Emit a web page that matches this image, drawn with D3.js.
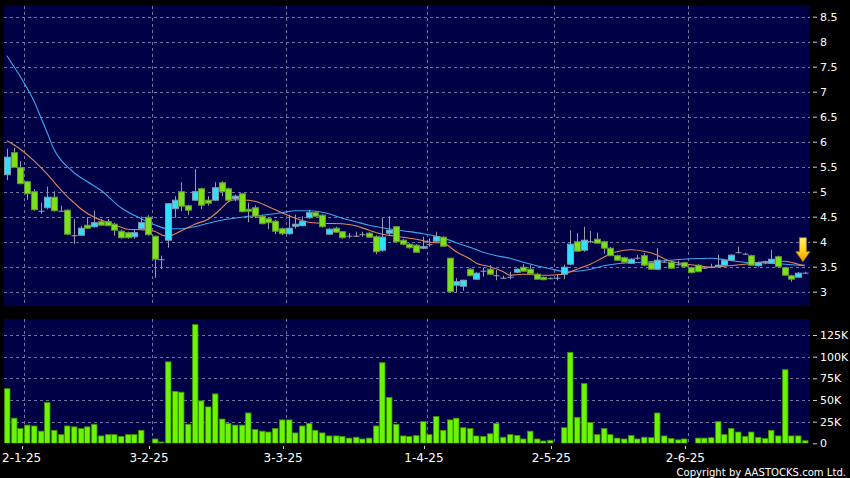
<!DOCTYPE html>
<html><head><meta charset="utf-8">
<script src="https://cdn.jsdelivr.net/npm/d3@7"></script>
<style>html,body{margin:0;padding:0;background:#000;}svg{display:block;}</style>
</head><body>
<svg id="c" width="850" height="478"></svg>
<script>
// ---------- DATA ----------
const dates = [
"27-12-24","30-12-24","31-12-24",
"2-1-25","3-1-25","6-1-25","7-1-25","8-1-25","9-1-25","10-1-25","13-1-25","14-1-25","15-1-25","16-1-25","17-1-25","20-1-25","21-1-25","22-1-25","23-1-25","24-1-25","27-1-25","28-1-25",
"3-2-25","4-2-25","5-2-25","6-2-25","7-2-25","10-2-25","11-2-25","12-2-25","13-2-25","14-2-25","17-2-25","18-2-25","19-2-25","20-2-25","21-2-25","24-2-25","25-2-25","26-2-25","27-2-25","28-2-25",
"3-3-25","4-3-25","5-3-25","6-3-25","7-3-25","10-3-25","11-3-25","12-3-25","13-3-25","14-3-25","17-3-25","18-3-25","19-3-25","20-3-25","21-3-25","24-3-25","25-3-25","26-3-25","27-3-25","28-3-25","31-3-25",
"1-4-25","2-4-25","3-4-25","7-4-25","8-4-25","9-4-25","10-4-25","11-4-25","14-4-25","15-4-25","16-4-25","17-4-25","22-4-25","23-4-25","24-4-25","25-4-25","28-4-25","29-4-25","30-4-25",
"2-5-25","6-5-25","7-5-25","8-5-25","9-5-25","12-5-25","13-5-25","14-5-25","15-5-25","16-5-25","19-5-25","20-5-25","21-5-25","22-5-25","23-5-25","26-5-25","27-5-25","28-5-25","29-5-25","30-5-25",
"2-6-25","3-6-25","4-6-25","5-6-25","6-6-25","9-6-25","10-6-25","11-6-25","12-6-25","13-6-25","16-6-25","17-6-25","18-6-25","19-6-25","20-6-25","23-6-25","24-6-25","25-6-25"
];
const open = [
5.34,5.78,5.48,5.20,5.00,4.62,4.68,4.89,4.62,4.63,4.13,4.13,4.33,4.30,4.40,4.40,4.35,4.21,4.18,4.10,4.26,4.49,
4.11,3.65,4.03,4.66,5.00,4.72,4.83,5.06,4.83,4.83,5.18,5.06,4.86,4.96,4.65,4.68,4.51,4.46,4.41,4.26,
4.16,4.31,4.32,4.48,4.58,4.53,4.15,4.27,4.20,4.12,4.12,4.15,4.17,4.10,3.83,4.17,4.30,4.03,3.95,3.93,3.87,
3.95,4.01,4.09,3.67,3.13,3.11,3.45,3.25,3.42,3.45,3.33,3.28,3.30,3.39,3.49,3.45,3.35,3.29,3.27,
3.28,3.35,3.55,4.00,3.83,4.01,4.05,4.00,3.87,3.72,3.68,3.57,3.68,3.72,3.58,3.45,3.60,3.59,3.55,3.58,
3.48,3.53,3.48,3.50,3.50,3.53,3.63,3.79,3.76,3.72,3.52,3.60,3.57,3.70,3.48,3.32,3.29,3.38
];
const high = [
5.86,5.88,5.61,5.22,5.05,4.78,5.10,5.01,4.72,4.65,4.45,4.31,4.49,4.62,4.45,4.45,4.38,4.24,4.20,4.25,4.50,4.53,
4.12,3.72,4.77,4.91,5.19,4.74,5.45,5.08,4.91,5.19,5.21,5.08,4.94,4.97,4.78,4.73,4.53,4.48,4.44,4.28,
4.54,4.54,4.51,4.64,4.60,4.55,4.27,4.30,4.21,4.17,4.20,4.20,4.19,4.13,4.47,4.51,4.31,4.05,3.97,3.95,4.10,
4.07,4.20,4.11,3.68,3.27,3.24,3.47,3.39,3.48,3.53,3.43,3.32,3.40,3.47,3.55,3.53,3.37,3.30,3.29,
3.34,3.54,4.23,4.17,4.30,4.22,4.18,4.02,3.89,3.74,3.70,3.67,3.73,3.77,3.60,3.87,3.62,3.61,3.62,3.60,
3.50,3.55,3.50,3.56,3.74,3.65,3.75,3.90,3.78,3.74,3.60,3.62,3.84,3.72,3.50,3.34,3.39,3.40
];
const low = [
5.23,5.47,5.15,4.84,4.62,4.56,4.65,4.60,4.60,4.13,3.95,4.12,4.25,4.28,4.32,4.31,4.12,4.06,4.06,4.06,4.24,4.12,
3.28,3.45,3.88,4.48,4.61,4.53,4.82,4.65,4.72,4.82,4.91,4.81,4.81,4.59,4.39,4.47,4.35,4.25,4.15,4.13,
4.14,4.26,4.31,4.46,4.50,4.28,4.14,4.18,4.06,4.07,4.09,4.10,4.08,3.75,3.80,4.13,3.98,3.93,3.86,3.78,3.85,
3.90,4.00,3.90,2.98,2.98,3.02,3.31,3.24,3.30,3.34,3.23,3.26,3.25,3.38,3.40,3.35,3.24,3.23,3.25,
3.23,3.25,3.53,3.80,3.80,3.97,3.96,3.76,3.71,3.62,3.58,3.56,3.64,3.52,3.44,3.43,3.58,3.46,3.52,3.49,
3.37,3.39,3.46,3.47,3.48,3.52,3.62,3.77,3.74,3.52,3.50,3.55,3.56,3.49,3.32,3.20,3.28,3.37
];
const close = [
5.69,5.49,5.16,4.96,4.64,4.62,4.89,4.62,4.62,4.15,4.13,4.27,4.27,4.38,4.33,4.32,4.23,4.08,4.08,4.18,4.38,4.14,
3.65,3.65,4.76,4.83,4.71,4.63,5.00,4.73,4.77,5.08,5.00,4.83,4.91,4.60,4.61,4.51,4.36,4.38,4.21,4.16,
4.27,4.35,4.41,4.58,4.51,4.30,4.25,4.19,4.08,4.12,4.12,4.15,4.09,3.80,4.09,4.23,4.00,3.95,3.88,3.79,3.90,
3.95,4.10,3.91,3.00,3.20,3.23,3.32,3.37,3.42,3.35,3.33,3.28,3.30,3.45,3.41,3.36,3.25,3.24,3.27,
3.28,3.49,3.95,3.81,4.03,4.01,3.97,3.87,3.72,3.63,3.59,3.65,3.68,3.53,3.45,3.63,3.60,3.47,3.55,3.50,
3.38,3.40,3.48,3.50,3.53,3.63,3.73,3.79,3.76,3.53,3.58,3.60,3.65,3.50,3.33,3.25,3.37,3.38
];
// volume in thousands of shares
const volume = [
63,29,17,21,20,14,47,15,10,20,19,17,19,22,8.5,10,10,8,10,10,15,0,
5,1.5,94,60,59,22,137,49,42,57,28,23,21,21,35,16,14,13,17,27,
27,12,20,23,15,12,8.5,8.5,8,6,7,5,6,20,93,53,22,8.5,8,9,25,
10,31,15,27,29,18,17,8.5,8,11,23,7,10,9,5,14,5,2.7,3.5,
0,18,105,30,69,24,10,17,10,6,5,9,5,7,6.5,35,8.5,5.5,4,5,
0,6,6,6.5,25,10,17,13,8,13,7,5.5,15,8.5,85,8.5,8.5,3
];
// moving averages: [trading-day index, value]
const ma10 = [[0,6.02],[2,5.85],[4,5.62],[6,5.35],[8,5.04],[9,4.90],[10,4.78],[11,4.66],[13,4.49],[15,4.39],[17,4.29],[18,4.25],[20,4.24],[22,4.21],[23,4.14],[24,4.11],[26,4.22],[28,4.35],[30,4.45],[32,4.67],[33,4.80],[34,4.84],[36,4.83],[37,4.81],[39,4.70],[41,4.58],[43,4.47],[45,4.39],[47,4.37],[50,4.36],[52,4.32],[54,4.23],[56,4.15],[58,4.11],[61,4.05],[64,3.98],[65,3.98],[66,3.90],[67,3.80],[69,3.66],[70,3.57],[72,3.50],[74,3.40],[75,3.33],[77,3.35],[80,3.33],[82,3.34],[83,3.35],[85,3.45],[87,3.55],[89,3.69],[90,3.76],[92,3.83],[93,3.84],[95,3.81],[97,3.73],[98,3.66],[100,3.58],[102,3.54],[105,3.49],[107,3.51],[110,3.55],[113,3.60],[116,3.61],[118,3.55],[119,3.53]];
const ma20 = [[0,7.72],[1,7.51],[2,7.30],[3,7.07],[4,6.82],[5,6.50],[6,6.18],[7,5.85],[8,5.64],[9,5.50],[10,5.38],[12,5.20],[14,5.03],[17,4.68],[20,4.46],[22,4.34],[24,4.26],[26,4.26],[28,4.30],[30,4.37],[32,4.43],[35,4.49],[38,4.53],[41,4.58],[43,4.62],[45,4.62],[48,4.56],[50,4.47],[52,4.40],[54,4.33],[56,4.28],[59,4.22],[62,4.16],[65,4.08],[67,3.98],[69,3.89],[71,3.79],[73,3.72],[75,3.67],[77,3.59],[79,3.52],[81,3.46],[83,3.41],[85,3.41],[87,3.45],[89,3.52],[91,3.56],[93,3.58],[95,3.59],[98,3.62],[102,3.66],[105,3.67],[107,3.64],[110,3.59],[114,3.57],[119,3.52]];
const priceTicks = [3,3.5,4,4.5,5,5.5,6,6.5,7,7.5,8,8.5];
const volTicks = [0,25,50,75,100,125];
const monthLabels = ["2-1-25","3-2-25","3-3-25","1-4-25","2-5-25","2-6-25"];
const copyright = "Copyright by AASTOCKS.com Ltd.";

// ---------- LAYOUT ----------
const svg = d3.select("#c");
const main = {x:4, y:6, w:806, h:300};
const vol = {x:4, y:319, w:806, h:124.3};
const bg = "#000046", gridCol = "#7474a4";
const font = "DejaVu Sans, Verdana, sans-serif";

const x = d3.scaleBand().domain(dates).range([3.65, 808.25]).paddingInner(0).paddingOuter(0);
const xc = i => x(dates[i]) + x.bandwidth()/2;
const yP = d3.scaleLinear().domain([3, 8.5]).range([291.7, 16.7]);
const yV = d3.scaleLinear().domain([0, 125]).range([443.3, 335]);

svg.append("rect").attr("width",850).attr("height",478).attr("fill","#000");

const defs = svg.append("defs");
defs.append("clipPath").attr("id","cm").append("rect").attr("x",main.x).attr("y",main.y).attr("width",main.w).attr("height",main.h);
defs.append("clipPath").attr("id","cv").append("rect").attr("x",vol.x).attr("y",vol.y).attr("width",vol.w).attr("height",vol.h);
const grad = defs.append("linearGradient").attr("id","ag").attr("x1",0).attr("y1",0).attr("x2",0).attr("y2",1);
grad.append("stop").attr("offset","0%").attr("stop-color","#fff27a");
grad.append("stop").attr("offset","55%").attr("stop-color","#ffd21a");
grad.append("stop").attr("offset","100%").attr("stop-color","#e89a00");

svg.append("rect").attr("x",main.x).attr("y",main.y).attr("width",main.w).attr("height",main.h).attr("fill",bg);
svg.append("rect").attr("x",vol.x).attr("y",vol.y).attr("width",vol.w).attr("height",vol.h).attr("fill",bg);

const monthIdx = monthLabels.map(l => dates.indexOf(l));

// grid - main
const gm = svg.append("g").attr("clip-path","url(#cm)");
gm.selectAll("line.h").data(priceTicks).join("line")
  .attr("x1",main.x).attr("x2",main.x+main.w)
  .attr("y1",d=>Math.round(yP(d))+0.5).attr("y2",d=>Math.round(yP(d))+0.5)
  .attr("stroke",gridCol).attr("stroke-dasharray","3,3").attr("stroke-width",1);
gm.selectAll("line.v").data(monthIdx).join("line")
  .attr("x1",i=>Math.round(xc(i)-2.8)+0.5).attr("x2",i=>Math.round(xc(i)-2.8)+0.5)
  .attr("y1",main.y).attr("y2",main.y+main.h)
  .attr("stroke",gridCol).attr("stroke-dasharray","3,3").attr("stroke-width",1);

// grid - volume
const gv = svg.append("g").attr("clip-path","url(#cv)");
gv.selectAll("line.h").data(volTicks.filter(v=>v>0)).join("line")
  .attr("x1",vol.x).attr("x2",vol.x+vol.w)
  .attr("y1",d=>Math.round(yV(d))+0.5).attr("y2",d=>Math.round(yV(d))+0.5)
  .attr("stroke",gridCol).attr("stroke-dasharray","3,3");
gv.selectAll("line.v").data(monthIdx).join("line")
  .attr("x1",i=>Math.round(xc(i)-2.8)+0.5).attr("x2",i=>Math.round(xc(i)-2.8)+0.5)
  .attr("y1",vol.y).attr("y2",vol.y+vol.h)
  .attr("stroke",gridCol).attr("stroke-dasharray","3,3");

// volume bars
gv.selectAll("rect.vb").data(volume).join("rect")
  .attr("x",(d,i)=>Math.round(xc(i)-3)+0.5)
  .attr("y",d=>yV(d))
  .attr("width",5.5)
  .attr("height",d=>Math.max(0, yV(0)-yV(d)))
  .attr("fill","#6cf500").attr("stroke","#3f8f00").attr("stroke-width",0.8)
  .attr("display",d=>d>0?null:"none");

// moving averages
const line = d3.line().x(d=>xc(d[0])).y(d=>yP(d[1])).curve(d3.curveMonotoneX);
gm.append("path").attr("d",line(ma20)).attr("fill","none").attr("stroke","#3aa8f0").attr("stroke-width",1.1);
gm.append("path").attr("d",line(ma10)).attr("fill","none").attr("stroke","#e0865a").attr("stroke-width",1.1);

// candles
const cand = dates.map((d,i)=>({i, o:open[i], h:high[i], l:low[i], c:close[i]}));
const cg = gm.selectAll("g.c").data(cand).join("g");
cg.append("line")
  .attr("x1",d=>Math.round(xc(d.i))+0.5).attr("x2",d=>Math.round(xc(d.i))+0.5)
  .attr("y1",d=>yP(d.h)).attr("y2",d=>yP(d.l))
  .attr("stroke","#9a9aa8").attr("stroke-width",1);
cg.append("rect")
  .attr("x",d=>Math.round(xc(d.i))-2.5)
  .attr("y",d=>yP(Math.max(d.o,d.c)))
  .attr("width",6)
  .attr("height",d=>Math.max(1, yP(Math.min(d.o,d.c))-yP(Math.max(d.o,d.c))))
  .attr("fill",d=>d.c>d.o?"#2ee0ff":(d.c<d.o?"#7de01c":"#a0a0b0"))
  .attr("stroke",d=>d.c>d.o?"#7f9fb0":(d.c<d.o?"#5f9a30":"#a0a0b0"))
  .attr("stroke-width",d=>d.c===d.o?0:1);

// arrow marker above last bar
const ax = xc(dates.length-1) - 2, ay = yP(close[close.length-1]) - 35;
svg.append("path")
  .attr("d",`M${ax-3.5},${ay} L${ax+3.5},${ay} L${ax+3.5},${ay+14} L${ax+7},${ay+14} L${ax},${ay+24} L${ax-7},${ay+14} L${ax-3.5},${ay+14} Z`)
  .attr("fill","url(#ag)").attr("stroke","#b07a00").attr("stroke-width",0.8);

// right axes
const axP = d3.axisRight(yP).tickValues(priceTicks).tickSize(4).tickPadding(3).tickFormat(d=>String(d));
const gAP = svg.append("g").attr("transform","translate(813,0)").call(axP);
const axV = d3.axisRight(yV).tickValues(volTicks).tickSize(4).tickPadding(3).tickFormat(d=>d===0?"0":d+"K");
const gAV = svg.append("g").attr("transform","translate(813,0)").call(axV);
[gAP,gAV].forEach(g=>{
  g.select(".domain").remove();
  g.selectAll(".tick line").attr("stroke","#d0d0d0");
  g.selectAll(".tick text").attr("fill","#ffffff").attr("font-family",font).attr("font-size",11);
});

// bottom date labels
const gB = svg.append("g");
gB.selectAll("line").data(monthIdx).join("line")
  .attr("x1",i=>Math.round(xc(i)-5.5)+0.5).attr("x2",i=>Math.round(xc(i)-5.5)+0.5)
  .attr("y1",446).attr("y2",449).attr("stroke","#d0d0d0");
gB.selectAll("text").data(monthIdx).join("text")
  .attr("x",i=>xc(i)-5.5).attr("y",462)
  .attr("text-anchor","middle").attr("fill","#fff")
  .attr("font-family",font).attr("font-size",12)
  .text(i=>dates[i]);

svg.append("text").attr("x",846).attr("y",475.5).attr("text-anchor","end")
  .attr("fill","#fff").attr("font-family","DejaVu Sans Condensed, DejaVu Sans, sans-serif")
  .attr("font-size",11.2).text(copyright);
</script>
</body></html>
